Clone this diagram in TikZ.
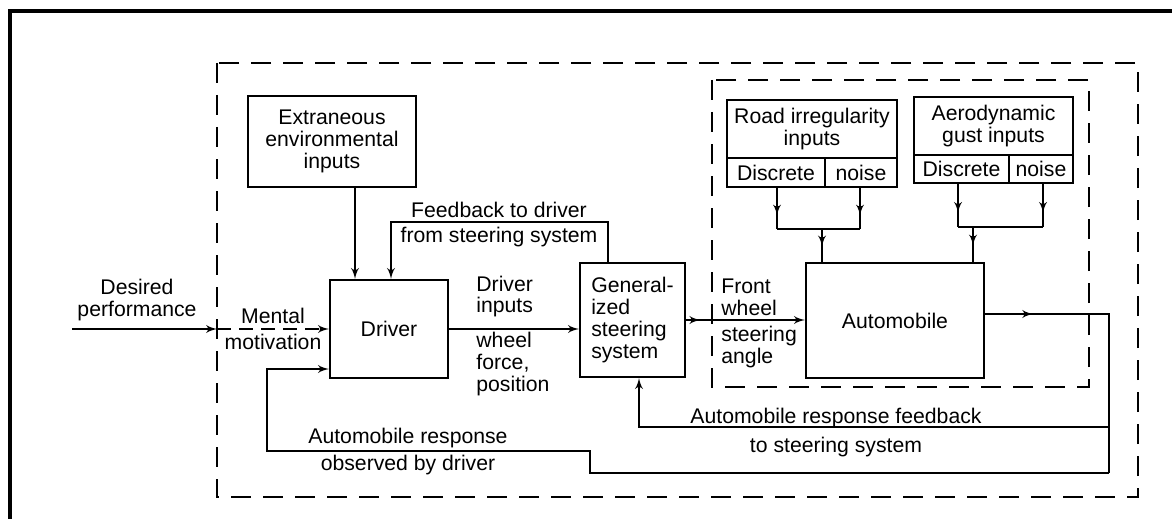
\documentclass[tikz,border=0pt]{standalone}
\usepackage{fontspec}
\setmainfont{Liberation Sans}
\usetikzlibrary{arrows, positioning, decorations.markings}

\begin{document}
\begin{tikzpicture}[
      x=0.5pt, y=-0.5pt,
      font=\fontsize{10.6}{10.9}\selectfont,
      block/.style={rectangle, draw, line width=1.1pt, align=center, inner sep=0pt},
      cell/.style={block, minimum height=14.5pt},
      line/.style={draw, -latex', line width=0.9pt},
      plain_line/.style={draw, line width=0.9pt},
      mid_arrow/.style={plain_line, postaction={decorate},
        decoration={markings, mark=at position #1 with {\arrow{latex'}}}},
      dashed_box/.style={draw, line width=1.4pt, dash pattern=on 10pt off 6pt},
      label_text/.style={align=left, inner sep=0pt}
  ]
  \useasboundingbox (0,0) rectangle (1172,519);

  % frame and dashed system boundaries
  \draw[line width=2pt] (10,519) -- (10,11) -- (1172,11);
  \draw[dashed_box] (217,63) rectangle (1138,497);
  \draw[dashed_box] (712,80) rectangle (1089,387);

  % blocks
  \node [block, minimum width=84pt, minimum height=45.5pt] (extra) at (332,141.5) {Extraneous\\environmental\\inputs};
  \node [block, minimum width=59pt, minimum height=49pt] (driver) at (389,329) {Driver};
  \node [block, minimum width=52.5pt, minimum height=57pt, align=left] (gen) at (632.5,320) {General-\\ized\\steering\\system};
  \node [block, minimum width=89pt, minimum height=57.5pt] (auto) at (895,320.5) {Automobile};

  \node [block, minimum width=85pt, minimum height=29pt] (road) at (812,129) {Road irregularity\\inputs};
  \node [cell, minimum width=49pt] (rdis) at (776,172.5) {Discrete};
  \node [cell, minimum width=36pt] (rnoi) at (861,172.5) {noise};
  \node [block, minimum width=79.5pt, minimum height=29pt] (aero) at (993.5,126) {Aerodynamic\\gust inputs};
  \node [cell, minimum width=47.5pt, minimum height=14pt] (adis) at (961.5,169) {Discrete};
  \node [cell, minimum width=32pt, minimum height=14pt] (anoi) at (1041,169) {noise};

  % junctions
  \coordinate (din) at (72,329);
  \coordinate (rj) at (822,229);
  \coordinate (aj) at (973,227);
  \coordinate (fb) at (608,222);
  \coordinate (oc) at (1109,314);
  \coordinate (brk) at (1109,427);
  \coordinate (ob) at (1109,473);

  % labels
  \node [label_text, align=center] (desired) at (137,300) {Desired\\performance};
  \node [label_text] (mental) at (273,316) {Mental};
  \node [label_text] (motiv) at (273,342) {motivation};
  \node [label_text, anchor=west] (dinp) at (476,296.5) {Driver\\inputs};
  \node [label_text, anchor=west] (wheel) at (476,364) {wheel\\force,\\position};
  \node [label_text] (fbtop) at (499,210) {Feedback to driver};
  \node [label_text] (fbbot) at (499,237) {from steering system};
  \node [label_text, anchor=west] (front) at (721,297.5) {Front\\wheel};
  \node [label_text, anchor=west] (angle) at (721,347) {steering\\angle};
  \node [label_text] (obs1) at (408,438) {Automobile response};
  \node [label_text] (obs2) at (408,465) {observed by driver};
  \node [label_text] (afb1) at (836,418) {Automobile response feedback};
  \node [label_text] (afb2) at (836,447) {to steering system};

  % forward path
  \path [line] (din) -- (217,329);
  \path [line, dash pattern=on 7pt off 4pt] (217,329) -- (driver.west);
  \path [line] (driver.east) -- (driver.east -| gen.west);
  \path [mid_arrow=0.12, -latex'] (gen.east) -- (gen.east -| auto.west);
  \path [mid_arrow=0.17] (auto.east |- oc) -- (oc) -- (ob);
  \path [line] (extra.south -| 355,0) -- (driver.north -| 355,0);

  % disturbance inputs
  \path [mid_arrow=0.67] (rdis.south -| 777,0) -- (rj -| 777,0);
  \path [mid_arrow=0.67] (rnoi.south -| 860,0) -- (rj -| 860,0);
  \path [plain_line] (rj -| 777,0) -- (rj -| 860,0);
  \path [mid_arrow=0.53] (rj) -- (rj |- auto.north);
  \path [mid_arrow=0.67] (adis.south -| 958,0) -- (aj -| 958,0);
  \path [mid_arrow=0.67] (anoi.south -| 1043,0) -- (aj -| 1043,0);
  \path [plain_line] (aj -| 958,0) -- (aj -| 1043,0);
  \path [mid_arrow=0.53] (aj) -- (aj |- auto.north);

  % feedback loops
  \path [line] (gen.north -| fb) -- (fb) -| (driver.north -| 391,0);
  \path [line] (brk) -| (gen.south -| 639,0);
  \path [line] (ob) -| (590,451) -| (267,369) -- (driver.west |- 267,369);

\end{tikzpicture}
\end{document}
